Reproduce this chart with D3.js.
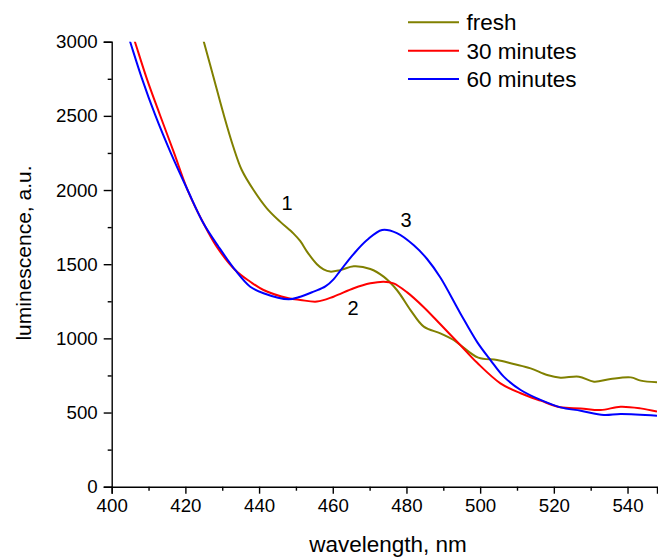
<!DOCTYPE html>
<html>
<head>
<meta charset="utf-8">
<script src="https://cdn.jsdelivr.net/npm/d3@7"></script>
<style>
  body { margin: 0; background: #fff; }
  svg { display: block; font-family: "Liberation Sans", Arial, sans-serif; }
  .axis text { font-size: 18.7px; fill: #000; }
  .axis path, .axis line { stroke: #000; stroke-width: 1.4; }
</style>
</head>
<body>
<svg id="chart"></svg>
<script>
// wavelength (nm) / luminescence (a.u.)
const freshWl  = [424, 425, 427.6, 430.3, 433, 435.3, 438.5, 442.1, 445.7, 449.3, 451.2, 453, 455.7, 457.5, 459.3, 462, 465.7, 470.2, 473.8, 477.4, 481.1, 484.7, 489.2, 492.8, 494.6, 499.5, 504.6, 509.1, 513.7, 518.2, 521.8, 526.8, 530.9, 535.4, 540.9, 543.6, 548];
const freshVal = [3090, 3000, 2764, 2517, 2292, 2135, 2000, 1877, 1787, 1708, 1655, 1585, 1500, 1465, 1450, 1460, 1486, 1468, 1416, 1326, 1191, 1079, 1034, 989, 955, 870, 854, 827, 798, 753, 735, 742, 708, 726, 737, 715, 704];

const min30Wl  = [405.5, 406.3, 409.5, 413.1, 416.9, 420.6, 424.9, 428.5, 433.5, 437.6, 441.2, 448, 451.2, 455.7, 460.2, 465.7, 470.2, 473.8, 476.5, 480.2, 484.7, 489.2, 494.6, 499.2, 505.5, 511, 516.4, 521.8, 527.3, 532.7, 538.1, 543.5, 548];
const min30Val = [3060, 3000, 2753, 2506, 2252, 2000, 1776, 1618, 1461, 1382, 1326, 1270, 1259, 1248, 1281, 1338, 1371, 1382, 1371, 1310, 1210, 1095, 955, 835, 697, 630, 580, 535, 528, 517, 539, 528, 506];

const min60Wl  = [404, 405, 408.2, 411.8, 416, 420.6, 424.9, 429, 433.5, 437.6, 441.2, 448, 451.2, 454.8, 458, 460.2, 462, 465.7, 469.3, 473.4, 477.4, 482, 485.6, 489.2, 494.6, 499.2, 502.8, 506.4, 511, 516.4, 521.8, 527.3, 533.6, 538.1, 548];
const min60Val = [3077, 3000, 2753, 2506, 2252, 2000, 1776, 1618, 1461, 1348, 1304, 1263, 1281, 1315, 1350, 1398, 1455, 1570, 1663, 1731, 1710, 1628, 1535, 1410, 1170, 975, 854, 742, 652, 585, 535, 512, 483, 490, 479];

const seriesNames  = ['fresh', '30 minutes', '60 minutes'];
const seriesColors = ['#808000', '#ff0000', '#0000ff'];

const xTicks = [400, 420, 440, 460, 480, 500, 520, 540];
const yTicks = [0, 500, 1000, 1500, 2000, 2500, 3000];

// curve number labels: [text, wavelength, value]
const curveLabels = [['1', 447.6, 1863], ['2', 465.5, 1156], ['3', 479.9, 1751]];

const W = 658, H = 557;
const m = { top: 41.7, right: 1, bottom: 70.3, left: 111.7 };
const iW = W - m.left - m.right;
const iH = H - m.top - m.bottom;

const svg = d3.select('#chart').attr('width', W).attr('height', H);
const g = svg.append('g').attr('transform', `translate(${m.left},${m.top})`);

const x = d3.scaleLinear().domain([400, 548]).range([0, iW]);
const y = d3.scaleLinear().domain([0, 3000]).range([iH, 0]);

svg.append('defs').append('clipPath').attr('id', 'clip')
  .append('rect').attr('x', 0).attr('y', 0).attr('width', iW).attr('height', iH);

// minor ticks first, then major ticks with labels
g.append('g').attr('class', 'axis').attr('transform', `translate(0,${iH})`)
  .call(d3.axisBottom(x).tickValues(d3.range(410, 548, 20)).tickSize(4).tickFormat(''))
  .call(ax => ax.select('.domain').remove());
g.append('g').attr('class', 'axis').attr('transform', `translate(0,${iH})`)
  .call(d3.axisBottom(x).tickValues(xTicks).tickSizeOuter(0).tickSize(7).tickPadding(5).tickFormat(d3.format('d')));

g.append('g').attr('class', 'axis')
  .call(d3.axisLeft(y).tickValues(d3.range(250, 3000, 500)).tickSize(4).tickFormat(''))
  .call(ax => ax.select('.domain').remove());
g.append('g').attr('class', 'axis')
  .call(d3.axisLeft(y).tickValues(yTicks).tickSizeOuter(0).tickSize(8).tickPadding(6).tickFormat(d3.format('d')));

// series
const series = [
  { wl: freshWl, val: freshVal },
  { wl: min30Wl, val: min30Val },
  { wl: min60Wl, val: min60Val }
];
const line = d3.line().x(d => x(d[0])).y(d => y(d[1])).curve(d3.curveCatmullRom.alpha(0.5));

const plot = g.append('g').attr('clip-path', 'url(#clip)');
series.forEach((s, i) => {
  plot.append('path')
    .datum(s.wl.map((w, j) => [w, s.val[j]]))
    .attr('fill', 'none')
    .attr('stroke', seriesColors[i])
    .attr('stroke-width', 2)
    .attr('stroke-linejoin', 'round')
    .attr('d', line);
});

// curve numbers
g.selectAll('.curve-label')
  .data(curveLabels)
  .join('text')
    .attr('class', 'curve-label')
    .attr('x', d => x(d[1]))
    .attr('y', d => y(d[2]))
    .attr('text-anchor', 'middle')
    .attr('font-size', 20)
    .text(d => d[0]);

// legend
const legend = svg.append('g').attr('transform', 'translate(408,22.3)');
seriesNames.forEach((name, i) => {
  const row = legend.append('g').attr('transform', `translate(0,${i * 28.35})`);
  row.append('line').attr('x1', 0).attr('x2', 51).attr('y1', 0).attr('y2', 0)
    .attr('stroke', seriesColors[i]).attr('stroke-width', 2);
  row.append('text').attr('x', 58.5).attr('y', 8).attr('font-size', 22.5).text(name);
});

// axis titles
svg.append('text')
  .attr('x', 388).attr('y', 551.7)
  .attr('text-anchor', 'middle')
  .attr('font-size', 22.5)
  .text('wavelength, nm');

svg.append('text')
  .attr('transform', 'translate(31,253) rotate(-90)')
  .attr('text-anchor', 'middle')
  .attr('font-size', 21)
  .text('luminescence, a.u.');
</script>
</body>
</html>
